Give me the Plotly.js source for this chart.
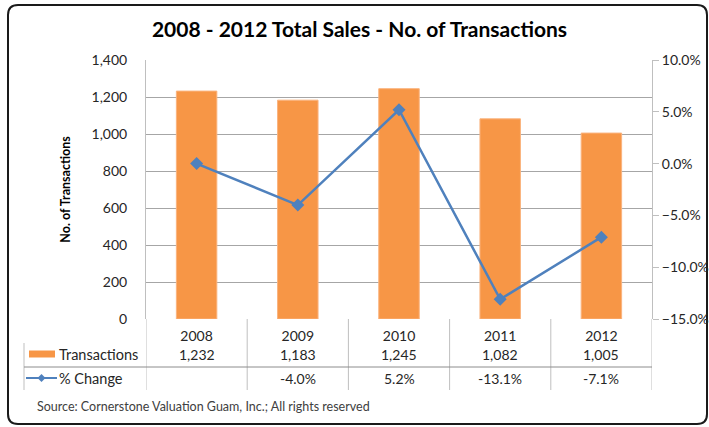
<!DOCTYPE html>
<html>
<head>
<meta charset="utf-8">
<script src="https://cdn.plot.ly/plotly-3.0.1.min.js"></script>
<style>
html,body{margin:0;padding:0;background:#fff;}
#chart{width:709px;height:427px;}
</style>
</head>
<body>
<div id="chart"></div>
<script>
// ---- data ----
var years = ['2008', '2009', '2010', '2011', '2012'];
var transactions = [1232, 1183, 1245, 1082, 1005];
var pctChange = [0.0, -0.040, 0.052, -0.131, -0.071];
var pctLabels = ['', '-4.0%', '5.2%', '-13.1%', '-7.1%'];
var leftTicks = [0, 200, 400, 600, 800, 1000, 1200, 1400];
var rightTicks = [-0.15, -0.10, -0.05, 0, 0.05, 0.10];

// ---- geometry helpers ----
var W = 709, H = 427;
var ML = 146, MR = 57, MT = 60, MB = 108;
var PW = W - ML - MR, PH = H - MT - MB;
function px(x) { return (x - ML) / PW; }
function py(y) { return (H - MB - y) / PH; }

var FONT = 'Lato, "Open Sans", sans-serif';
var TXT = '#262626';
var orange = '#F79646';
var blue = '#4F81BD';

var fmt = function (v) { return v.toLocaleString('en-US'); };

var traces = [
  {
    type: 'bar', x: years, y: transactions, name: 'Transactions',
    marker: { color: orange, line: { color: '#FAB37E', width: 1 } },
    width: 0.4, hoverinfo: 'x+y'
  },
  {
    type: 'scatter', mode: 'lines+markers', x: years, y: pctChange, yaxis: 'y2',
    name: '% Change',
    line: { color: blue, width: 2.5 },
    marker: { symbol: 'diamond', size: 10, color: blue }
  }
];

var shapes = [];
var annotations = [];

// rounded border
(function () {
  var x0 = 8, y0 = 5, x1 = 707, y1 = 424, r = 10;
  var p = 'M ' + px(x0 + r) + ',' + py(y0) +
    ' L ' + px(x1 - r) + ',' + py(y0) +
    ' Q ' + px(x1) + ',' + py(y0) + ' ' + px(x1) + ',' + py(y0 + r) +
    ' L ' + px(x1) + ',' + py(y1 - r) +
    ' Q ' + px(x1) + ',' + py(y1) + ' ' + px(x1 - r) + ',' + py(y1) +
    ' L ' + px(x0 + r) + ',' + py(y1) +
    ' Q ' + px(x0) + ',' + py(y1) + ' ' + px(x0) + ',' + py(y1 - r) +
    ' L ' + px(x0) + ',' + py(y0 + r) +
    ' Q ' + px(x0) + ',' + py(y0) + ' ' + px(x0 + r) + ',' + py(y0) + ' Z';
  shapes.push({ type: 'path', xref: 'paper', yref: 'paper', path: p,
    line: { color: '#1a1a1a', width: 2 }, layer: 'below' });
})();

// table vertical lines at category boundaries
for (var i = 0; i <= years.length; i++) {
  shapes.push({ type: 'line', xref: 'x', yref: 'paper',
    x0: i - 0.5, x1: i - 0.5, y0: 0, y1: py(390),
    line: { color: '#BFBFBF', width: 1 } });
}
// left table border
shapes.push({ type: 'line', xref: 'paper', yref: 'paper',
  x0: px(24), x1: px(24), y0: py(343), y1: py(390),
  line: { color: '#BFBFBF', width: 1 } });
// horizontal separator
shapes.push({ type: 'line', xref: 'paper', yref: 'paper',
  x0: px(24), x1: px(652), y0: py(367), y1: py(367),
  line: { color: '#8C8C8C', width: 1 } });
// legend key: orange swatch
shapes.push({ type: 'rect', xref: 'paper', yref: 'paper',
  x0: px(29), x1: px(55), y0: py(357.5), y1: py(350.5),
  fillcolor: orange, line: { width: 0 } });
// legend key: blue line with diamond
shapes.push({ type: 'line', xref: 'paper', yref: 'paper',
  x0: px(26), x1: px(57), y0: py(378), y1: py(378),
  line: { color: blue, width: 2 } });
shapes.push({ type: 'path', xref: 'paper', yref: 'paper',
  path: 'M ' + px(41.5) + ',' + py(374) + ' L ' + px(45.5) + ',' + py(378) +
    ' L ' + px(41.5) + ',' + py(382) + ' L ' + px(37.5) + ',' + py(378) + ' Z',
  fillcolor: blue, line: { width: 0 } });

// row labels
annotations.push({ xref: 'paper', yref: 'paper', x: px(57), y: py(354),
  xanchor: 'left', yanchor: 'middle', text: 'Transactions', showarrow: false,
  font: { family: FONT, size: 14.5, color: TXT } });
annotations.push({ xref: 'paper', yref: 'paper', x: px(57), y: py(378),
  xanchor: 'left', yanchor: 'middle', text: '% Change', showarrow: false,
  font: { family: FONT, size: 14.5, color: TXT } });

// table values (category axis: position by index)
for (var j = 0; j < years.length; j++) {
  annotations.push({ xref: 'x', yref: 'paper', x: j, y: py(354),
    xanchor: 'center', yanchor: 'middle', text: fmt(transactions[j]), showarrow: false,
    font: { family: FONT, size: 14, color: TXT } });
  if (pctLabels[j]) {
    annotations.push({ xref: 'x', yref: 'paper', x: j, y: py(378),
      xanchor: 'center', yanchor: 'middle', text: pctLabels[j], showarrow: false,
      font: { family: FONT, size: 14, color: TXT } });
  }
}

// source
annotations.push({ xref: 'paper', yref: 'paper', x: px(35), y: py(406),
  xanchor: 'left', yanchor: 'middle',
  text: 'Source: Cornerstone Valuation Guam, Inc.; All rights reserved',
  showarrow: false, font: { family: FONT, size: 12.5, color: '#404040' } });

var layout = {
  width: W, height: H,
  margin: { l: ML, r: MR, t: MT, b: MB, pad: 0 },
  paper_bgcolor: 'rgba(0,0,0,0)', plot_bgcolor: 'rgba(0,0,0,0)',
  showlegend: false,
  font: { family: FONT, size: 13, color: TXT },
  title: {
    text: '<b>2008 - 2012 Total Sales - No. of Transactions</b>',
    font: { family: FONT, size: 21, color: '#000' },
    x: 0.507, xanchor: 'center', xref: 'container',
    y: 1 - 30 / H, yanchor: 'middle', yref: 'container'
  },
  xaxis: {
    type: 'category', range: [-0.5, 4.5], fixedrange: true,
    showline: false, showgrid: false, zeroline: false,
    ticks: 'outside', ticklen: 4, tickcolor: 'rgba(0,0,0,0)',
    tickfont: { family: FONT, size: 14, color: TXT }
  },
  yaxis: {
    range: [0, 1400], tickvals: leftTicks, tickformat: ',',
    showline: true, linecolor: '#BFBFBF', linewidth: 1,
    showgrid: true, gridcolor: '#A6A6A6', gridwidth: 1, zeroline: false,
    ticks: 'outside', ticklen: 15, tickcolor: 'rgba(0,0,0,0)',
    tickfont: { family: FONT, size: 14, color: TXT },
    title: { text: '<b>No. of Transactions</b>', standoff: 18,
      font: { family: FONT, size: 12.5, color: '#000' } }
  },
  yaxis2: {
    overlaying: 'y', side: 'right', range: [-0.15, 0.10],
    tickvals: rightTicks, tickformat: '.1%',
    showline: true, linecolor: '#BFBFBF', linewidth: 1,
    showgrid: false, zeroline: false,
    ticks: 'outside', ticklen: 6, tickcolor: '#BFBFBF',
    tickfont: { family: FONT, size: 14, color: TXT }
  },
  shapes: shapes,
  annotations: annotations
};

Plotly.newPlot('chart', traces, layout, { displayModeBar: false, staticPlot: true });
</script>
</body>
</html>
